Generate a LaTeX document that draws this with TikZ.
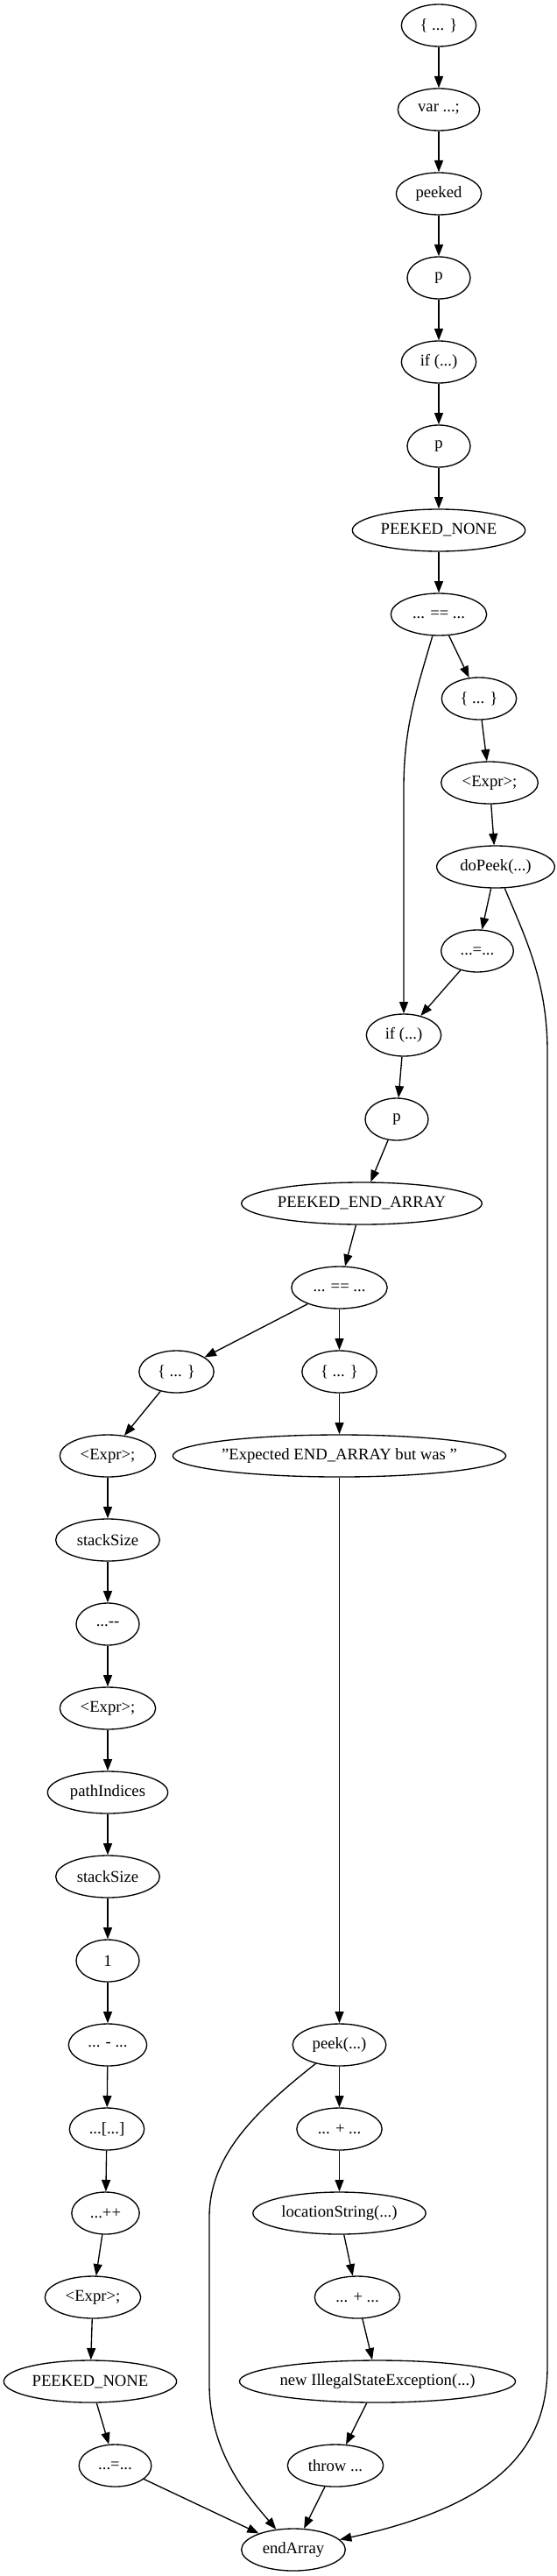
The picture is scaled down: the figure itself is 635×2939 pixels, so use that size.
\documentclass[tikz,border=0pt]{standalone}
\usepackage{fontspec}
\setmainfont{Liberation Serif}
\usetikzlibrary{shapes.geometric,arrows.meta}
\begin{document}
\begin{tikzpicture}[x=0.75pt,y=-0.75pt,
  nd/.style={ellipse,draw,line width=1pt,minimum height=36pt,inner sep=0pt,font=\fontsize{14}{16}\selectfont},
  arr/.style={-{Triangle[length=10pt,width=7.5pt]},line width=1pt}]
\useasboundingbox (0,0) rectangle (635,2939);
\node[nd,minimum width=64pt] (n1) at (501,29) {\{ ... \}};
\node[nd,minimum width=70pt] (n2) at (501,125) {var ...;};
\node[nd,minimum width=73pt] (n3) at (501,221) {peeked};
\node[nd,minimum width=54pt] (n4) at (501,317) {p};
\node[nd,minimum width=64pt] (n5) at (501,413) {if (...)};
\node[nd,minimum width=54pt] (n6) at (501,509) {p};
\node[nd,minimum width=148pt] (n7) at (501,605) {PEEKED\_NONE};
\node[nd,minimum width=82pt] (n8) at (501,701) {... == ...};
\node[nd,minimum width=64pt] (n9) at (547,797) {\{ ... \}};
\node[nd,minimum width=83pt] (n10) at (559,893) {<Expr>;};
\node[nd,minimum width=101pt] (n11) at (566,989) {doPeek(...)};
\node[nd,minimum width=62pt] (n12) at (545,1085) {...=...};
\node[nd,minimum width=64pt] (n13) at (461,1181) {if (...)};
\node[nd,minimum width=54pt] (n14) at (453,1277) {p};
\node[nd,minimum width=206pt] (n15) at (413,1373) {PEEKED\_END\_ARRAY};
\node[nd,minimum width=82pt] (n16) at (387.5,1469) {... == ...};
\node[nd,minimum width=64pt] (n17) at (201.5,1565) {\{ ... \}};
\node[nd,minimum width=64pt] (n18) at (387.5,1565) {\{ ... \}};
\node[nd,minimum width=82pt] (n19) at (123,1661) {<Expr>;};
\node[nd,minimum width=277pt] (n20) at (387.5,1661) {"Expected END\_ARRAY but was "};
\node[nd,minimum width=89pt] (n21) at (123,1757) {stackSize};
\node[nd,minimum width=54pt] (n22) at (123,1853) {...-\kern0pt-};
\node[nd,minimum width=82pt] (n23) at (123,1949) {<Expr>;};
\node[nd,minimum width=103pt] (n24) at (123,2045) {pathIndices};
\node[nd,minimum width=89pt] (n25) at (123,2141) {stackSize};
\node[nd,minimum width=54pt] (n26) at (123,2237) {1};
\node[nd,minimum width=67pt] (n27) at (123,2333) {... - ...};
\node[nd,minimum width=80pt] (n28) at (387.5,2333) {peek(...)};
\node[nd,minimum width=64pt] (n29) at (122,2429) {...[...]};
\node[nd,minimum width=73pt] (n34) at (387.5,2429) {... + ...};
\node[nd,minimum width=58pt] (n30) at (120.5,2525) {...++};
\node[nd,minimum width=148pt] (n35) at (387.5,2525) {locationString(...)};
\node[nd,minimum width=82pt] (n31) at (106,2621) {<Expr>;};
\node[nd,minimum width=73pt] (n36) at (408,2621) {... + ...};
\node[nd,minimum width=148pt] (n32) at (103,2717) {PEEKED\_NONE};
\node[nd,minimum width=234pt] (n37) at (431,2717) {new IllegalStateException(...)};
\node[nd,minimum width=62pt] (n33) at (131.5,2813) {...=...};
\node[nd,minimum width=82pt] (n38) at (383,2813) {throw ...};
\node[nd,minimum width=89pt] (n39) at (335,2909) {endArray};

\draw[arr] (n1) -- (n2);
\draw[arr] (n2) -- (n3);
\draw[arr] (n3) -- (n4);
\draw[arr] (n4) -- (n5);
\draw[arr] (n5) -- (n6);
\draw[arr] (n6) -- (n7);
\draw[arr] (n7) -- (n8);
\draw[arr] (n8) -- (n9);
\draw[arr] (n8) .. controls (475,790) and (461,830) .. (461,900) -- (n13);
\draw[arr] (n9) -- (n10);
\draw[arr] (n10) -- (n11);
\draw[arr] (n11) -- (n12);
\draw[arr] (n11) .. controls (600,1070) and (625,1120) .. (625,1200) -- (625,2700) .. controls (625,2800) and (560,2860) .. (n39);
\draw[arr] (n12) -- (n13);
\draw[arr] (n13) -- (n14);
\draw[arr] (n14) -- (n15);
\draw[arr] (n15) -- (n16);
\draw[arr] (n16) -- (n17);
\draw[arr] (n16) -- (n18);
\draw[arr] (n17) -- (n19);
\draw[arr] (n18) -- (n20);
\draw[arr] (n19) -- (n21);
\draw[arr] (n21) -- (n22);
\draw[arr] (n22) -- (n23);
\draw[arr] (n23) -- (n24);
\draw[arr] (n24) -- (n25);
\draw[arr] (n25) -- (n26);
\draw[arr] (n26) -- (n27);
\draw[arr] (n27) -- (n29);
\draw[arr] (n29) -- (n30);
\draw[arr] (n30) -- (n31);
\draw[arr] (n31) -- (n32);
\draw[arr] (n32) -- (n33);
\draw[arr] (n33) -- (n39);
\draw[arr] (n20) -- (n28);
\draw[arr] (n28) -- (n34);
\draw[arr] (n28) .. controls (290,2410) and (239,2460) .. (239,2530) -- (239,2720) .. controls (239,2800) and (285,2850) .. (n39);
\draw[arr] (n34) -- (n35);
\draw[arr] (n35) -- (n36);
\draw[arr] (n36) -- (n37);
\draw[arr] (n37) -- (n38);
\draw[arr] (n38) -- (n39);
\end{tikzpicture}
\end{document}
